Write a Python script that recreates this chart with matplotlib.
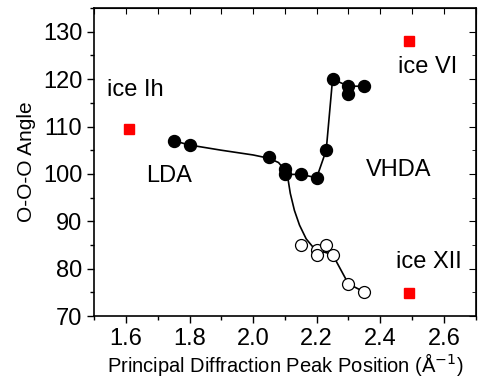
import matplotlib
matplotlib.use("Agg")
import matplotlib.pyplot as plt
from matplotlib.ticker import MultipleLocator

plt.rcParams['font.family'] = ['Liberation Sans', 'DejaVu Sans']

# filled circles (LDA / VHDA)
filled_x = [1.75, 1.80, 2.05, 2.10, 2.10, 2.15, 2.20, 2.23, 2.25, 2.30, 2.30, 2.35]
filled_y = [107.0, 106.1, 103.5, 101.0, 99.9, 99.9, 99.2, 105.0, 120.0, 118.5, 116.8, 118.5]

# open circles
open_x = [2.15, 2.20, 2.20, 2.23, 2.25, 2.30, 2.35]
open_y = [85.0, 84.0, 83.0, 85.0, 83.0, 76.8, 75.1]

# crystalline ices
ice_x = [1.61, 2.49, 2.49]
ice_y = [109.4, 128.0, 74.9]

# guide lines
lda_curve_x = [1.75, 1.80, 1.90, 2.00, 2.05, 2.08, 2.10]
lda_curve_y = [107.0, 106.1, 105.0, 104.0, 103.3, 102.4, 100.8]
drop_curve_x = [2.10, 2.107, 2.117, 2.130, 2.146, 2.167, 2.188, 2.204]
drop_curve_y = [100.8, 100.1, 95.9, 92.3, 89.2, 86.3, 84.6, 83.9]
vhda_line_x = [2.10, 2.15, 2.20, 2.23, 2.25, 2.30, 2.35]
vhda_line_y = [99.9, 99.9, 99.2, 105.0, 120.0, 118.5, 118.5]
open_line_x = [2.204, 2.25, 2.30, 2.35]
open_line_y = [83.9, 83.0, 76.8, 75.1]

# labels
label_text = ['ice Ih', 'ice VI', 'LDA', 'VHDA', 'ice XII']
label_x = [1.54, 2.456, 1.662, 2.356, 2.451]
label_y = [117.7, 122.6, 99.6, 100.8, 81.4]

fig = plt.figure(figsize=(4.78, 3.8), dpi=100)
ax = fig.add_axes([0.197, 0.168, 0.798, 0.811])

for cx, cy in [(lda_curve_x, lda_curve_y), (drop_curve_x, drop_curve_y),
               (vhda_line_x, vhda_line_y), (open_line_x, open_line_y)]:
    ax.plot(cx, cy, color='black', lw=1.2, zorder=2)

ax.plot(filled_x, filled_y, 'o', color='black', ms=8.6, zorder=3)
ax.plot(open_x, open_y, 'o', mfc='white', mec='black', mew=0.9, ms=8.6, zorder=3)
ax.plot(ice_x, ice_y, 's', color='red', ms=6.8, zorder=3)

for t, x, y in zip(label_text, label_x, label_y):
    ax.text(x, y, t, fontsize=17, ha='left', va='center')

ax.set_xlim(1.5, 2.7)
ax.set_ylim(70, 135)
ax.xaxis.set_minor_locator(MultipleLocator(0.1))
ax.yaxis.set_minor_locator(MultipleLocator(5))
ax.set_xticks([1.6, 1.8, 2.0, 2.2, 2.4, 2.6])
ax.set_yticks([70, 80, 90, 100, 110, 120, 130])
ax.tick_params(which='both', direction='out', labelsize=17, width=1)
ax.tick_params(which='major', length=5)
ax.tick_params(which='minor', length=3)

# inward ticks on top and right
sec_x = ax.secondary_xaxis('top')
sec_x.xaxis.set_major_locator(MultipleLocator(0.1))
sec_x.tick_params(direction='in', length=4, labeltop=False)
sec_y = ax.secondary_yaxis('right')
sec_y.yaxis.set_major_locator(MultipleLocator(10))
sec_y.yaxis.set_minor_locator(MultipleLocator(5))
sec_y.tick_params(which='major', direction='in', length=5, labelright=False)
sec_y.tick_params(which='minor', direction='in', length=3)
for s in ax.spines.values():
    s.set_linewidth(1.2)

ax.set_xlabel('Principal Diffraction Peak Position (Å$^{-1}$)', fontsize=14.5, labelpad=1)
ax.set_ylabel('O-O-O Angle', fontsize=15, labelpad=5)

fig.savefig('out.png', dpi=100)
